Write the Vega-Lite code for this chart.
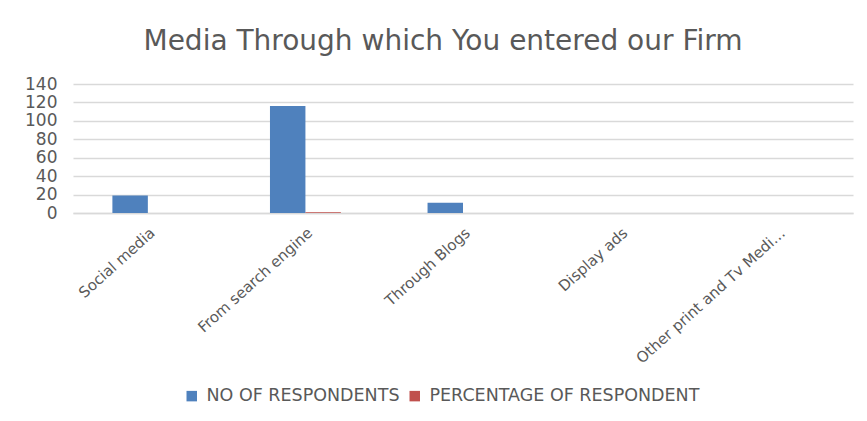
{
  "$schema": "https://vega.github.io/schema/vega-lite/v6.json",
  "width": 780,
  "height": 129,
  "autosize": {"type": "none"},
  "padding": {"left": 73, "top": 84, "right": 14, "bottom": 208},
  "background": "white",
  "title": {
    "text": "Media Through which You entered our Firm",
    "font": "DejaVu Sans",
    "fontSize": 28,
    "fontWeight": "normal",
    "color": "#595959",
    "anchor": "middle",
    "dx": -20,
    "offset": 19
  },
  "data": {
    "values": [
      {"media": "Social media", "series": "NO OF RESPONDENTS", "value": 19},
      {"media": "Social media", "series": "PERCENTAGE OF RESPONDENT", "value": 0.13},
      {"media": "From search engine", "series": "NO OF RESPONDENTS", "value": 116},
      {"media": "From search engine", "series": "PERCENTAGE OF RESPONDENT", "value": 0.79},
      {"media": "Through Blogs", "series": "NO OF RESPONDENTS", "value": 11},
      {"media": "Through Blogs", "series": "PERCENTAGE OF RESPONDENT", "value": 0.08},
      {"media": "Display ads", "series": "NO OF RESPONDENTS", "value": 0},
      {"media": "Display ads", "series": "PERCENTAGE OF RESPONDENT", "value": 0},
      {"media": "Other print and Tv Medi…", "series": "NO OF RESPONDENTS", "value": 0},
      {"media": "Other print and Tv Medi…", "series": "PERCENTAGE OF RESPONDENT", "value": 0}
    ]
  },
  "mark": {"type": "bar"},
  "encoding": {
    "x": {
      "field": "media",
      "type": "nominal",
      "sort": null,
      "title": null,
      "scale": {"paddingInner": 0.55, "paddingOuter": 0.25},
      "axis": {
        "labelAngle": -42,
        "labelFont": "DejaVu Sans",
        "labelFontSize": 15,
        "labelColor": "#595959",
        "labelPadding": 12,
        "labelLimit": 300,
        "ticks": false,
        "domainColor": "#d9d9d9",
        "domainWidth": 1.5
      }
    },
    "xOffset": {"field": "series", "type": "nominal", "scale": {"paddingInner": 0}},
    "y": {
      "field": "value",
      "type": "quantitative",
      "title": null,
      "scale": {"domain": [0, 140], "nice": false},
      "axis": {
        "values": [0, 20, 40, 60, 80, 100, 120, 140],
        "domain": false,
        "ticks": false,
        "labelFont": "DejaVu Sans",
        "labelFontSize": 17,
        "labelColor": "#595959",
        "labelPadding": 16,
        "gridColor": "#d9d9d9",
        "gridWidth": 1.5
      }
    },
    "color": {
      "field": "series",
      "type": "nominal",
      "scale": {"domain": ["NO OF RESPONDENTS", "PERCENTAGE OF RESPONDENT"], "range": ["#4f81bd", "#c0504d"]},
      "legend": {
        "orient": "none",
        "legendX": 110,
        "legendY": 303,
        "direction": "horizontal",
        "title": null,
        "symbolType": "square",
        "symbolSize": 110,
        "symbolStrokeWidth": 0,
        "labelFont": "DejaVu Sans",
        "labelFontSize": 17.5,
        "labelColor": "#595959",
        "labelLimit": 400,
        "columnPadding": 6,
        "labelOffset": 6
      }
    }
  },
  "config": {"view": {"stroke": null}}
}
